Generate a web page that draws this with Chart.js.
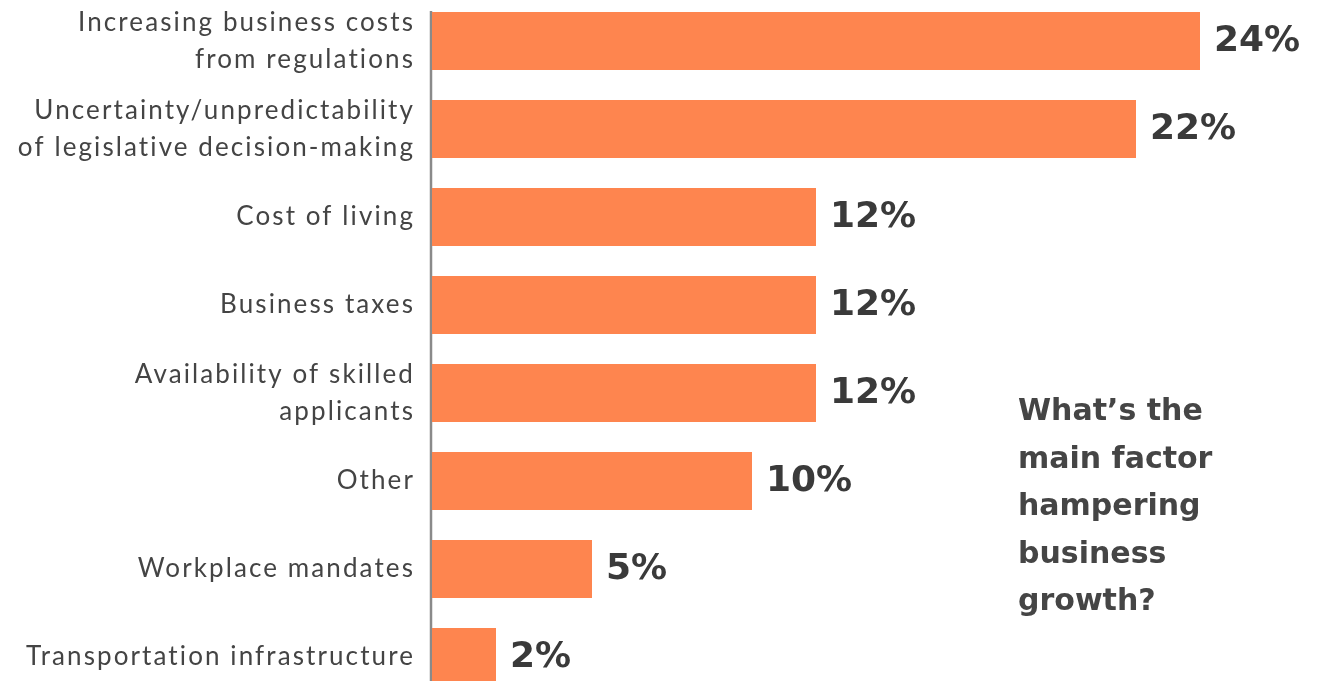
<!DOCTYPE html>
<html>
<head>
<meta charset="utf-8">
<script src="https://cdn.jsdelivr.net/npm/chart.js@4"></script>
<style>
  html, body { margin: 0; padding: 0; background: #fff; overflow: hidden; }
  body { width: 1319px; height: 681px; position: relative; }
  #wrap { position: absolute; left: 0; top: -3px; width: 1319px; height: 704px; }
  #question {
    position: absolute; left: 1018px; top: 386px;
    font-family: "DejaVu Sans", sans-serif; font-weight: 700; font-size: 30px;
    line-height: 47.5px; color: #454545;
  }
</style>
</head>
<body>
<div id="wrap"><canvas id="factorChart"></canvas></div>
<div id="question">What’s the<br>main factor<br>hampering<br>business<br>growth?</div>
<script>
// survey answers, top to bottom
const categories = [
    ['Increasing business costs', 'from regulations'],
    ['Uncertainty/unpredictability', 'of legislative decision-making'],
    'Cost of living',
    'Business taxes',
    ['Availability of skilled', 'applicants'],
    'Other',
    'Workplace mandates',
    'Transportation infrastructure'
];
const shares = [24, 22, 12, 12, 12, 10, 5, 2];

const barColor = '#FE854F';
const textColor = '#444444';

// wider letter spacing for the category labels
const spacing = {
    id: 'spacing',
    beforeDraw(chart) {
        chart.ctx.letterSpacing = '2.1px';
    }
};

// percent labels next to each bar
const valueLabels = {
    id: 'valueLabels',
    afterDatasetsDraw(chart) {
        const ctx = chart.ctx;
        const meta = chart.getDatasetMeta(0);
        ctx.save();
        ctx.letterSpacing = '0px';
        ctx.font = 'bold 36px "DejaVu Sans"';
        ctx.fillStyle = '#3a3a3a';
        ctx.textBaseline = 'middle';
        ctx.textAlign = 'left';
        meta.data.forEach((bar, i) => {
            ctx.fillText(shares[i] + '%', bar.x + 14, bar.y + 1);
        });
        ctx.restore();
    }
};

// vertical axis line starting at the top of the first bar
const axisLine = {
    id: 'axisLine',
    beforeDatasetsDraw(chart) {
        const ctx = chart.ctx;
        const first = chart.getDatasetMeta(0).data[0];
        const x = chart.chartArea.left - 1;
        ctx.save();
        ctx.strokeStyle = '#8a8a8a';
        ctx.lineWidth = 2.5;
        ctx.beginPath();
        ctx.moveTo(x, first.y - first.height / 2 - 1);
        ctx.lineTo(x, chart.chartArea.bottom + 10);
        ctx.stroke();
        ctx.restore();
    }
};

new Chart(document.getElementById('factorChart'), {
    type: 'bar',
    data: {
        labels: categories,
        datasets: [{
            data: shares,
            backgroundColor: barColor,
            borderWidth: 0,
            barPercentage: 0.66,
            categoryPercentage: 1
        }]
    },
    options: {
        indexAxis: 'y',
        responsive: true,
        maintainAspectRatio: false,
        animation: false,
        layout: { padding: { left: 0, right: 7, top: 0, bottom: 0 } },
        plugins: {
            legend: { display: false },
            tooltip: { enabled: false }
        },
        scales: {
            x: {
                display: false,
                min: 0,
                max: 27.5
            },
            y: {
                grid: { display: false, drawTicks: false },
                border: { display: false },
                ticks: {
                    color: textColor,
                    padding: 17,
                    font: { family: 'Lato', size: 26, lineHeight: 1.42 }
                },
                afterFit(scale) {
                    scale.width = 432;
                    scale.paddingTop = 0;
                    scale.paddingBottom = 0;
                }
            }
        }
    },
    plugins: [spacing, axisLine, valueLabels]
});
</script>
</body>
</html>
